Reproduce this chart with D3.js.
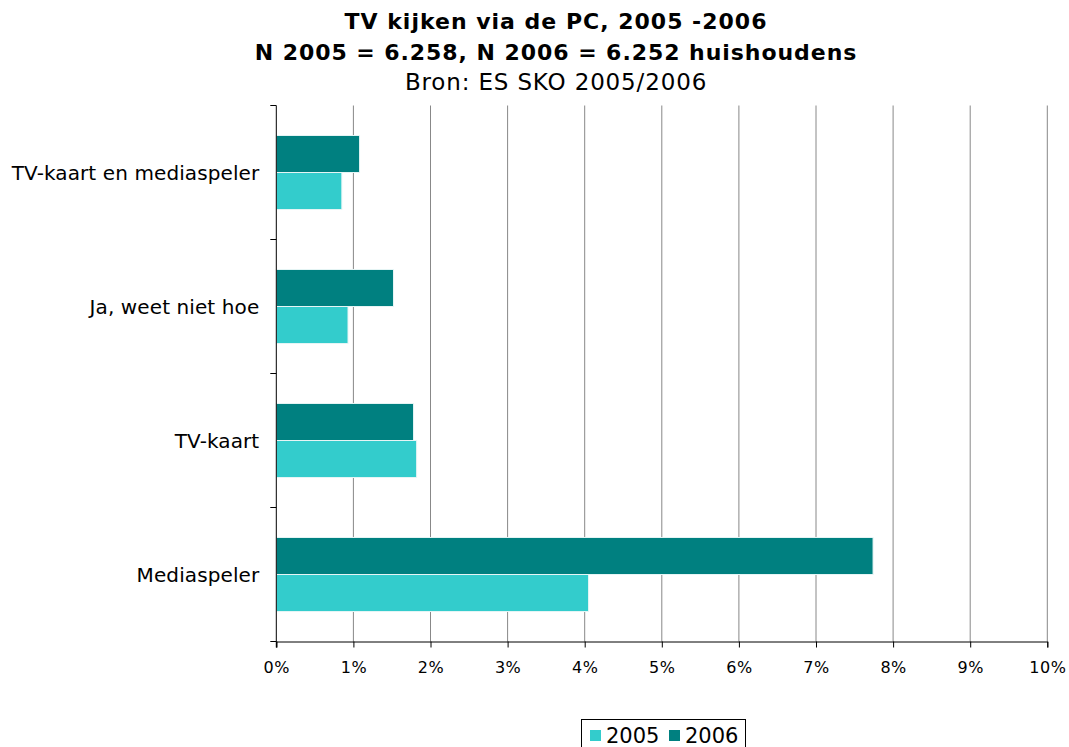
<!DOCTYPE html>
<html><head><meta charset="utf-8">
<script src="https://cdn.jsdelivr.net/npm/d3@7"></script>
<style>body{margin:0;background:#fff;} text{font-family:"DejaVu Sans",Verdana,sans-serif;}</style>
</head><body><svg id="c" width="1069" height="747"></svg>
<script>
const categories = ["TV-kaart en mediaspeler", "Ja, weet niet hoe", "TV-kaart", "Mediaspeler"];
const seriesNames = ["2006", "2005"];
const values2005 = [0.85, 0.93, 1.82, 4.05];
const values2006 = [1.08, 1.52, 1.78, 7.74];
const xTicks = [0,1,2,3,4,5,6,7,8,9,10];
const colors = {"2005": "#33CCCC", "2006": "#008080"};
const titleLines = ["TV kijken via de PC, 2005 -2006", "N 2005 = 6.258, N 2006 = 6.252 huishoudens", "Bron: ES SKO 2005/2006"];

const svg = d3.select("#c");
const L = 276.3, R = 1047.3, T = 105.5, B = 641.5;
const x = d3.scaleLinear().domain([0, 10]).range([L, R]);
const y = d3.scaleBand().domain(categories).range([T, B]);
const inner = d3.scaleBand().domain(seriesNames).range([0, y.bandwidth()]).paddingOuter(0.81).paddingInner(0.0);

// titles
svg.append("text").attr("x", 556).attr("y", 28.5).attr("text-anchor","middle").attr("font-size", 22).attr("font-weight","bold").attr("letter-spacing", 1).text(titleLines[0]);
svg.append("text").attr("x", 556).attr("y", 60).attr("text-anchor","middle").attr("font-size", 22).attr("font-weight","bold").attr("letter-spacing", 0.95).text(titleLines[1]);
svg.append("text").attr("x", 556).attr("y", 90).attr("text-anchor","middle").attr("font-size", 23).attr("letter-spacing", 0.85).text(titleLines[2]);

// gridlines
svg.append("g").selectAll("line").data(xTicks.filter(d => d > 0)).join("line")
  .attr("x1", d => x(d)).attr("x2", d => x(d)).attr("y1", T).attr("y2", B)
  .attr("stroke", "#888").attr("stroke-width", 1);

// bars
const data = [];
categories.forEach((c, i) => {
  data.push({cat: c, s: "2006", v: values2006[i]});
  data.push({cat: c, s: "2005", v: values2005[i]});
});
svg.append("g").selectAll("rect").data(data).join("rect")
  .attr("x", x(0)).attr("y", d => y(d.cat) + inner(d.s))
  .attr("width", d => x(d.v) - x(0)).attr("height", inner.bandwidth())
  .attr("fill", d => colors[d.s]).attr("stroke", "#e6f5f5").attr("stroke-width", 1);

// x axis
const xAxis = d3.axisBottom(x).tickValues(xTicks).tickFormat(d => d + "%").tickSizeOuter(0).tickSize(6);
const gx = svg.append("g").attr("transform", `translate(0,${B})`).call(xAxis);
gx.select(".domain").attr("stroke", "#000");
gx.selectAll("text").attr("font-size", 16).attr("y", 31).attr("dy", 0).attr("letter-spacing", 0.5)
  .attr("fill", "#000").style("font-family", "DejaVu Sans");

// y axis
const yTickPos = [T, T + y.step(), T + 2*y.step(), T + 3*y.step(), B];
const gy = svg.append("g");
gy.append("line").attr("x1", L).attr("x2", L).attr("y1", T).attr("y2", B+6).attr("stroke", "#000");
gy.selectAll("line.t").data(yTickPos).join("line").attr("class","t")
  .attr("x1", L-6).attr("x2", L).attr("y1", d => d).attr("y2", d => d).attr("stroke", "#000");
gy.selectAll("text").data(categories).join("text")
  .attr("x", L - 17).attr("y", d => y(d) + y.bandwidth()/2).attr("dy", "0.35em")
  .attr("text-anchor", "end").attr("font-size", 20).attr("letter-spacing", 0.1).text(d => d);

// legend
const lg = svg.append("g");
lg.append("rect").attr("x", 581.5).attr("y", 719.5).attr("width", 164).attr("height", 40).attr("fill", "#fff").attr("stroke", "#000");
const legItems = ["2005", "2006"];
const lx = [590, 669];
legItems.forEach((s, i) => {
  lg.append("rect").attr("x", lx[i]).attr("y", 730).attr("width", 11).attr("height", 11).attr("fill", colors[s]);
  lg.append("text").attr("x", lx[i] + 16).attr("y", 743).attr("font-size", 21).text(s);
});
</script></body></html>
